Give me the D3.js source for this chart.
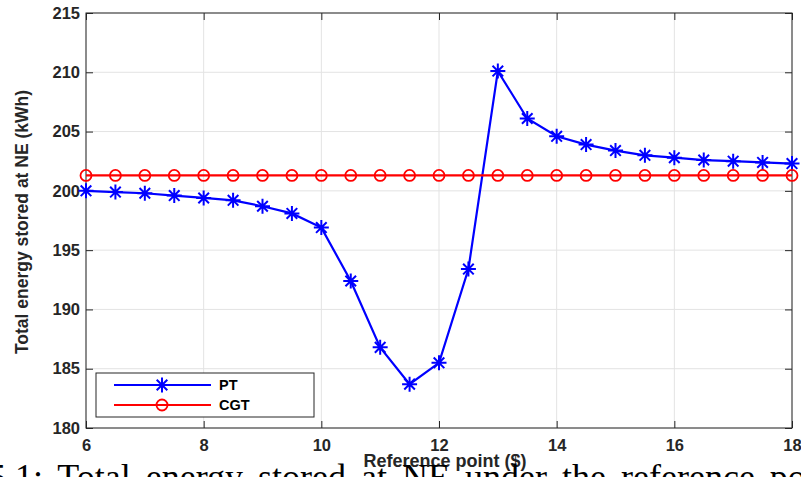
<!DOCTYPE html>
<html>
<head>
<meta charset="utf-8">
<script src="https://cdn.jsdelivr.net/npm/d3@7"></script>
<style>
  body { margin: 0; background: #fff; overflow: hidden; }
  svg { display: block; }
</style>
</head>
<body>
<svg id="chart"></svg>
<script>
// reference point ($)
const refPoints = [6, 6.5, 7, 7.5, 8, 8.5, 9, 9.5, 10, 10.5, 11, 11.5, 12, 12.5, 13, 13.5, 14, 14.5, 15, 15.5, 16, 16.5, 17, 17.5, 18];
// total energy stored at NE (kWh)
const ptValues = [200.0, 199.9, 199.8, 199.6, 199.4, 199.2, 198.7, 198.1, 196.9, 192.4, 186.8, 183.7, 185.5, 193.4, 210.1, 206.1, 204.6, 203.9, 203.4, 203.0, 202.8, 202.6, 202.5, 202.4, 202.3];
const cgtValues = [201.3, 201.3, 201.3, 201.3, 201.3, 201.3, 201.3, 201.3, 201.3, 201.3, 201.3, 201.3, 201.3, 201.3, 201.3, 201.3, 201.3, 201.3, 201.3, 201.3, 201.3, 201.3, 201.3, 201.3, 201.3];
const xTicks = [6, 8, 10, 12, 14, 16, 18];
const yTicks = [180, 185, 190, 195, 200, 205, 210, 215];
const seriesNames = ["PT", "CGT"];

const width = 801, height = 477;
const margin = {top: 13, right: 9, bottom: 49, left: 86};
const innerW = width - margin.left - margin.right;
const innerH = height - margin.top - margin.bottom;

const svg = d3.select("#chart").attr("width", width).attr("height", height);
const g = svg.append("g").attr("transform", `translate(${margin.left},${margin.top})`);

const x = d3.scaleLinear().domain([6, 18]).range([0, innerW]);
const y = d3.scaleLinear().domain([180, 215]).range([innerH, 0]);

const font = "'Liberation Sans', Arial, sans-serif";

// grid
g.append("g").selectAll("line").data(xTicks).join("line")
  .attr("x1", d => x(d)).attr("x2", d => x(d))
  .attr("y1", 0).attr("y2", innerH)
  .attr("stroke", "#e3e3e3").attr("stroke-width", 1);
g.append("g").selectAll("line").data(yTicks).join("line")
  .attr("x1", 0).attr("x2", innerW)
  .attr("y1", d => y(d)).attr("y2", d => y(d))
  .attr("stroke", "#e3e3e3").attr("stroke-width", 1);

// axes (ticks inside, box)
const axisStyle = sel => {
  sel.select(".domain").remove();
  sel.selectAll(".tick line").attr("stroke", "#262626").attr("stroke-width", 1);
  sel.selectAll(".tick text").attr("fill", "#262626")
    .style("font-family", font).style("font-weight", "bold").style("font-size", "16.5px");
};
g.append("g").attr("transform", `translate(0,${innerH})`)
  .call(d3.axisBottom(x).tickValues(xTicks).tickSize(-7).tickPadding(11).tickFormat(d3.format("d")))
  .call(axisStyle);
g.append("g")
  .call(d3.axisLeft(y).tickValues(yTicks).tickSize(-7).tickPadding(6).tickFormat(d3.format("d")))
  .call(axisStyle);
g.append("g")
  .call(d3.axisTop(x).tickValues(xTicks).tickSize(-7).tickFormat(""))
  .call(axisStyle);
g.append("g").attr("transform", `translate(${innerW},0)`)
  .call(d3.axisRight(y).tickValues(yTicks).tickSize(-7).tickFormat(""))
  .call(axisStyle);
g.append("rect").attr("width", innerW).attr("height", innerH)
  .attr("fill", "none").attr("stroke", "#262626").attr("stroke-width", 1);

// markers
const starPath = r => {
  const a = r * Math.SQRT1_2;
  return `M${-r},0L${r},0M0,${-r}L0,${r}M${-a},${-a}L${a},${a}M${-a},${a}L${a},${-a}`;
};

const line = d3.line().x(d => x(d[0])).y(d => y(d[1]));
const ptData = refPoints.map((r, i) => [r, ptValues[i]]);
const cgtData = refPoints.map((r, i) => [r, cgtValues[i]]);

g.append("path").datum(ptData).attr("d", line)
  .attr("fill", "none").attr("stroke", "#0000ff").attr("stroke-width", 2.2);
g.append("g").selectAll("path").data(ptData).join("path")
  .attr("transform", d => `translate(${x(d[0])},${y(d[1])})`)
  .attr("d", starPath(7.5)).attr("stroke", "#0000ff").attr("stroke-width", 2).attr("fill", "none");

g.append("path").datum(cgtData).attr("d", line)
  .attr("fill", "none").attr("stroke", "#ff0000").attr("stroke-width", 2.2);
g.append("g").selectAll("circle").data(cgtData).join("circle")
  .attr("cx", d => x(d[0])).attr("cy", d => y(d[1])).attr("r", 5.5)
  .attr("stroke", "#ff0000").attr("stroke-width", 1.8).attr("fill", "none");

// legend
const leg = svg.append("g").attr("transform", "translate(96,373)");
leg.append("rect").attr("width", 218).attr("height", 44)
  .attr("fill", "#fff").attr("stroke", "#262626").attr("stroke-width", 1);
const legColors = ["#0000ff", "#ff0000"];
seriesNames.forEach((name, i) => {
  const ly = 12 + i * 20;
  leg.append("line").attr("x1", 18).attr("x2", 115).attr("y1", ly).attr("y2", ly)
    .attr("stroke", legColors[i]).attr("stroke-width", 2.2);
  if (i === 0) {
    leg.append("path").attr("transform", `translate(66,${ly})`).attr("d", starPath(7.5))
      .attr("stroke", legColors[i]).attr("stroke-width", 2).attr("fill", "none");
  } else {
    leg.append("circle").attr("cx", 66).attr("cy", ly).attr("r", 5.5)
      .attr("stroke", legColors[i]).attr("stroke-width", 1.8).attr("fill", "none");
  }
  leg.append("text").attr("x", 123).attr("y", ly + 5).text(name)
    .style("font-family", font).style("font-weight", "bold").style("font-size", "14.5px").attr("fill", "#000");
});

// axis labels
svg.append("text").attr("x", 445).attr("y", 467)
  .attr("text-anchor", "middle").text("Reference point ($)")
  .style("font-family", font).style("font-weight", "bold").style("font-size", "18px").attr("fill", "#262626");
svg.append("text").attr("transform", "translate(28,222) rotate(-90)")
  .attr("text-anchor", "middle").text("Total energy stored at NE (kWh)")
  .style("font-family", font).style("font-weight", "bold").style("font-size", "17.5px").attr("fill", "#262626");

// caption of the figure, cut off by the bottom edge as in the source
svg.append("text").attr("x", -12).attr("y", 489)
  .text("5.1:  Total  energy  stored  at  NE  under  the  reference  point  and")
  .style("font-family", "'Liberation Serif', serif").style("font-size", "36px")
  .style("word-spacing", "6px").attr("fill", "#000");
</script>
</body>
</html>
